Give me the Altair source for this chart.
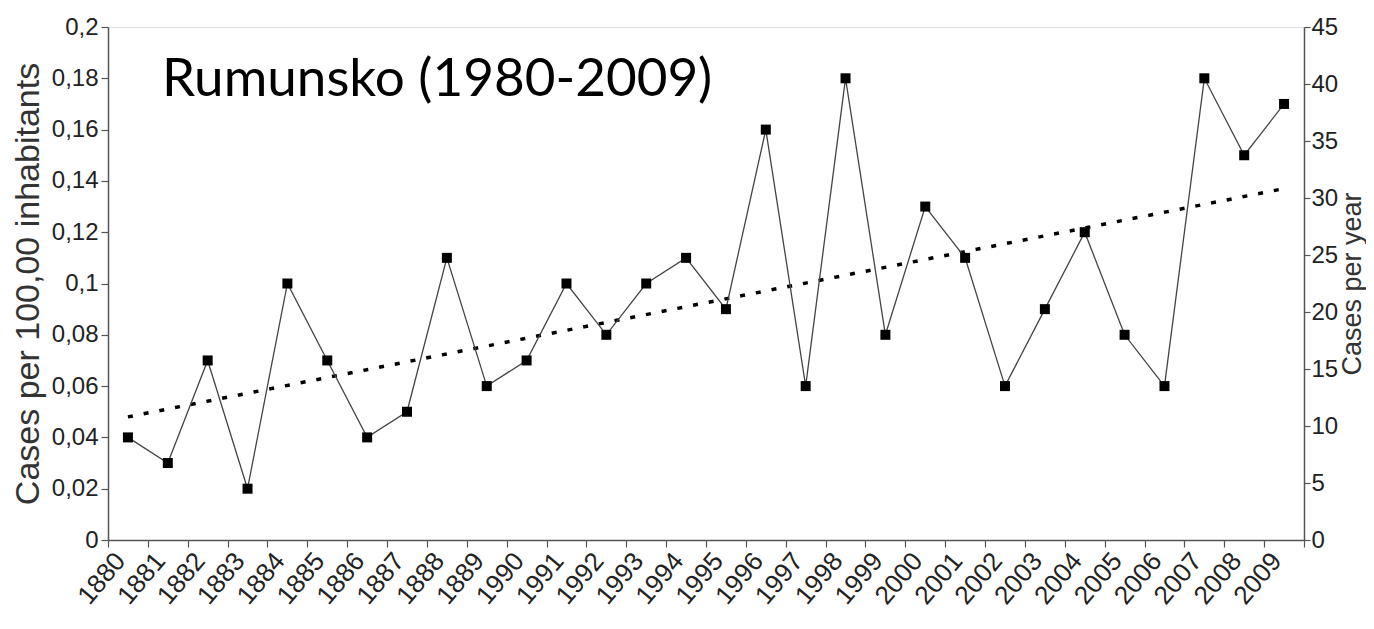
import altair as alt
import pandas as pd

# ---- data ----
years = ["1880", "1881", "1882", "1883", "1884", "1885", "1886", "1887", "1888", "1889",
         "1990", "1991", "1992", "1993", "1994", "1995", "1996", "1997", "1998", "1999",
         "2000", "2001", "2002", "2003", "2004", "2005", "2006", "2007", "2008", "2009"]
rate = [0.04, 0.03, 0.07, 0.02, 0.10, 0.07, 0.04, 0.05, 0.11, 0.06,
        0.07, 0.10, 0.08, 0.10, 0.11, 0.09, 0.16, 0.06, 0.18, 0.08,
        0.13, 0.11, 0.06, 0.09, 0.12, 0.08, 0.06, 0.18, 0.15, 0.17]
trend_years = ["1880", "2009"]
trend_vals = [0.048, 0.137]
left_ticks = [0, 0.02, 0.04, 0.06, 0.08, 0.10, 0.12, 0.14, 0.16, 0.18, 0.20]
right_ticks = [0, 5, 10, 15, 20, 25, 30, 35, 40, 45]
title_text = "Rumunsko (1980-2009)"

df = pd.DataFrame({"year": years, "rate": rate})
trend_df = pd.DataFrame({"year": trend_years, "rate": trend_vals})
right_df = pd.DataFrame({"cases": right_ticks})

AX = "#555555"
FONT = "Liberation Sans"

x_enc = alt.X("year:O", sort=years, title=None,
              scale=alt.Scale(paddingInner=0, paddingOuter=0),
              axis=alt.Axis(labelAngle=310, labelFont=FONT, labelFontSize=26,
                            labelColor="#222222", tickBand="extent", tickSize=7,
                            tickColor=AX, domainColor=AX, domainWidth=1.5,
                            tickWidth=1.2, labelPadding=9, labelOffset=-8))

y_scale = alt.Scale(domain=[0, 0.2], nice=False)
y_axis = alt.Axis(orient="left", values=left_ticks, format="~g",
                  labelExpr="replace(datum.label, '.', ',')",
                  title="Cases per 100,00 inhabitants", titleFont=FONT,
                  titleFontSize=34, titleFontWeight="normal", titleColor="#333333",
                  titlePadding=6, labelFont=FONT, labelFontSize=24,
                  labelColor="#222222", tickSize=7, tickColor=AX, tickWidth=1.2,
                  domainColor=AX, domainWidth=1.5, grid=False, labelPadding=3)

line = alt.Chart(df).mark_line(color="#444444", strokeWidth=1.3).encode(
    x=x_enc,
    y=alt.Y("rate:Q", scale=y_scale, axis=y_axis),
)
pts = alt.Chart(df).mark_point(shape="square", filled=True, color="#000000",
                               size=100, opacity=1).encode(
    x=alt.X("year:O", sort=years),
    y=alt.Y("rate:Q", scale=y_scale),
)
trend = alt.Chart(trend_df).mark_line(color="#000000", strokeWidth=3.5,
                                      strokeDash=[5, 11]).encode(
    x=alt.X("year:O", sort=years),
    y=alt.Y("rate:Q", scale=y_scale),
)
left = alt.layer(trend, line, pts)

right = alt.Chart(right_df).mark_point(opacity=0).encode(
    y=alt.Y("cases:Q", scale=alt.Scale(domain=[0, 45], nice=False),
            axis=alt.Axis(orient="right", values=right_ticks,
                          title="Cases per year", titleFont=FONT,
                          titleFontSize=27, titleFontWeight="normal",
                          titleColor="#333333", titleAngle=270,
                          titleBaseline="top", titlePadding=2,
                          labelFont=FONT, labelFontSize=24, labelColor="#222222",
                          tickSize=6, tickColor=AX, tickWidth=1.2,
                          domainColor=AX, domainWidth=1.5, grid=False,
                          labelPadding=1)),
)

chart = alt.layer(left, right).resolve_scale(y="independent").properties(
    width=1196, height=513,
    autosize=alt.AutoSizeParams(type="none"),
    padding={"left": 100, "top": 19, "right": 62, "bottom": 80},
    title=alt.TitleParams(title_text, anchor="start", orient="top",
                          font="Lato", fontSize=53, fontWeight="normal",
                          color="#000000", offset=-92, dx=54, frame="group"),
).configure_view(stroke=None).configure(background="white")

chart.save("out.html", embed_options={"renderer": "svg", "actions": False})
